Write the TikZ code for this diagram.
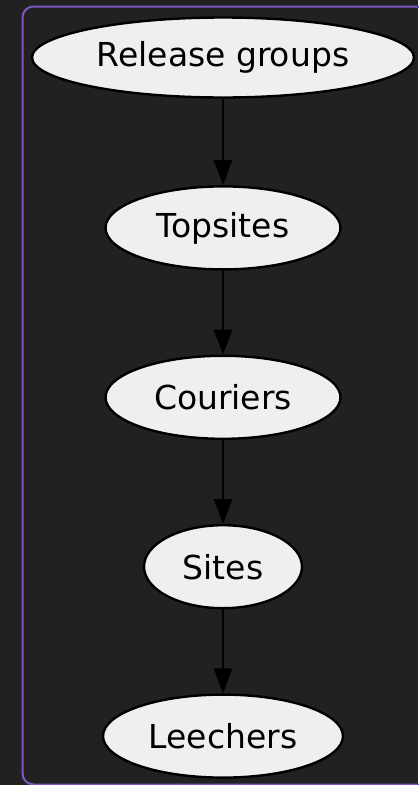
\documentclass[tikz,border=0pt]{standalone}
\usepackage{fontspec}
\setmainfont{DejaVu Sans}
\usetikzlibrary{shapes, arrows.meta, positioning, backgrounds}

\definecolor{pagebg}{HTML}{212121}
\definecolor{frame}{HTML}{7E57C2}
\definecolor{nodefill}{HTML}{EFEFEF}

\begin{document}
\begin{tikzpicture}[x=1pt, y=-1pt, node distance=84pt,
    stage/.style={draw=black, fill=nodefill, ellipse, line width=2.4pt,
        inner sep=0pt, minimum height=83pt, text=black,
        font=\fontsize{33}{39}\selectfont},
    flow/.style={-{Triangle[length=25pt, width=18pt]}, line width=2.6pt, black}]
    % page and cluster frame
    \useasboundingbox (0,0) rectangle (418,785);
    \fill[pagebg] (0,0) rectangle (418,785);
    \draw[frame, line width=2pt, rounded corners=11pt] (22.5,6.5) rectangle (440,784.5);
    % release chain, top to bottom
    \node (release) [stage, minimum width=382pt, minimum height=80pt] at (223,57.5) {Release groups};
    \node (topsites) [stage, minimum width=235pt, below=86.5pt of release] {Topsites};
    \node (couriers) [stage, minimum width=235pt, below=84pt of topsites] {Couriers};
    \node (sites) [stage, minimum width=158pt, below=84pt of couriers] {Sites};
    \node (leechers) [stage, minimum width=240pt, below=84pt of sites] {Leechers};
    \draw[flow] (release) -- (topsites);
    \draw[flow] (topsites) -- (couriers);
    \draw[flow] (couriers) -- (sites);
    \draw[flow] (sites) -- (leechers);
\end{tikzpicture}
\end{document}
